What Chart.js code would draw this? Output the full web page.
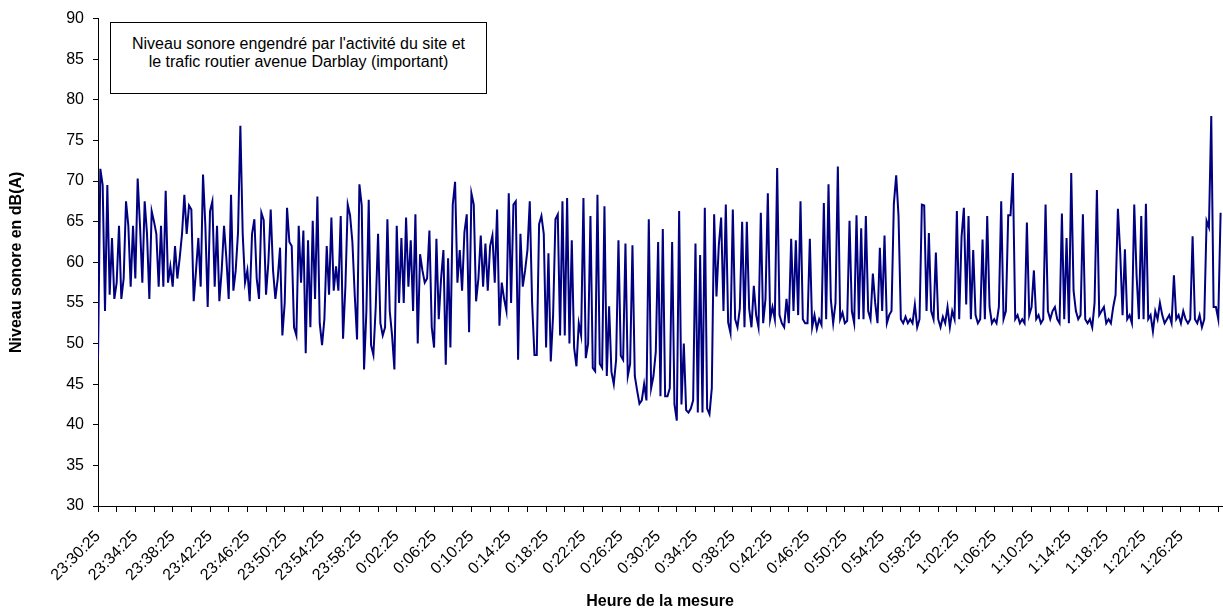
<!DOCTYPE html>
<html>
<head>
<meta charset="utf-8">
<title>Niveau sonore</title>
<script src="https://cdn.jsdelivr.net/npm/chart.js@4.4.1/dist/chart.umd.min.js"></script>
<style>
  html, body { margin: 0; padding: 0; background: #fff; }
  #wrap { position: relative; width: 1223px; height: 614px; }
  #note {
    position: absolute; left: 110px; top: 22px; width: 377px; height: 72px;
    box-sizing: border-box; border: 1px solid #000; background: #fff;
    padding-top: 12px; text-align: center; line-height: 23px;
    font: 16px 'Liberation Sans', Arial, sans-serif; color: #000;
  }
</style>
</head>
<body>
<div id="wrap">
  <canvas id="noise"></canvas>
  <div id="note">Niveau sonore engendré par l'activité du site et<br>le trafic routier avenue Darblay (important)</div>
</div>
<script>
// x axis labels, one every 4 minutes
const tickLabels = [
  '23:30:25', '23:34:25', '23:38:25', '23:42:25', '23:46:25', '23:50:25',
  '23:54:25', '23:58:25', '0:02:25', '0:06:25', '0:10:25', '0:14:25',
  '0:18:25', '0:22:25', '0:26:25', '0:30:25', '0:34:25', '0:38:25',
  '0:42:25', '0:46:25', '0:50:25', '0:54:25', '0:58:25', '1:02:25',
  '1:06:25', '1:10:25', '1:14:25', '1:18:25', '1:22:25', '1:26:25'
];

const STEP = 15; // secondes entre deux relevés

// niveau sonore en dB(A), un relevé toutes les 15 s à partir de 23:30:25
const levels = [
  // 23:30:25
  48, 71.5, 69.5, 54, 69.5, 56, 63, 55.5, 57.5, 64.5,
  55.5, 58, 67.5, 64.5, 57, 64.5, 58, 70.3, 64.5, 57.5,
  67.5, 63.5, 55.5, 66.3, 65, 63.5, 57, 64.5, 57, 68.8,
  57.5, 59.5, 57, 62, 58, 60.5, 63.5, 68.3, 63.5, 67,
  66.5, 55.2, 59, 63,
  // ~23:41
  57, 70.8, 64.5, 54.5, 66.3, 67.5, 57, 64.5, 55.2, 59,
  64.5, 60.5, 55.5, 68.3, 56.5, 59, 63.7, 76.8, 63.5, 57.5,
  59, 55.2, 63.5, 65.3, 58, 55.5, 66.1, 65.2, 56, 60,
  66.5, 59, 55.5, 58, 61.8, 51, 55, 66.7, 62.5, 62,
  52, 51, 64.5,
  // ~23:52
  57.5, 63.9, 48.8, 62.7, 52, 65.1, 55.5, 68.1, 52.5, 49.8,
  53, 62, 56, 65.5, 56.5, 59.5, 56.5, 65.7, 50.6, 57,
  67.1, 65.8, 62.5, 56, 50.5, 69.6, 67, 46.8, 54, 67.7,
  49.8, 48.6, 54.5, 63.5, 52.5, 51, 52, 65.3, 54, 51,
  46.8, 64.5, 55, 63,
  // ~0:03
  55, 65.5, 57, 62.7, 54, 65.9, 50, 61, 59, 57.5,
  58, 63.9, 52, 49.5, 62.9, 53, 58, 61.5, 47.4, 60.5,
  49.5, 67.1, 69.9, 57.5, 61.5, 56.5, 63.7, 65.9, 51.4, 68.5,
  67.1, 55.2, 58, 63.3, 57, 62.3, 56.5, 62, 63.3, 57.5,
  66.5, 52.2, 57.5, 55.5,
  // ~0:14
  54, 68.5, 55, 67.1, 67.5, 48, 63.5, 57, 59, 61.5,
  67.5, 55, 48.6, 48.6, 64.7, 65.7, 63.5, 49.5, 61.1, 47.8,
  53.5, 65.3, 65.9, 51, 67.5, 51, 67.9, 50, 62.7, 49.5,
  47.2, 52.5, 51, 67.9, 48.2, 50, 65.7, 47, 46.6, 68.3,
  47.5, 47, 66.9, 46,
  // ~0:25
  54.6, 46.5, 45, 48, 62.7, 48.5, 48, 62.3, 46, 47.5,
  62.1, 46, 44.2, 42.6, 43, 45, 43, 65.3, 44.5, 46,
  49, 62.5, 43.5, 64.1, 43.5, 43.5, 44.5, 62.5, 42.5, 40.5,
  66.3, 42.5, 50, 41.8, 41.5, 42, 43, 62.3, 41.5, 60.9,
  41.5, 66.7, 42,
  // ~0:36
  41.3, 44.5, 65.9, 55.8, 62.1, 65.5, 54, 67.1, 52.6, 51.3,
  66.5, 53, 52, 54.3, 65, 52, 65, 54.3, 52, 57.1,
  53.5, 52, 66.1, 52.5, 55.5, 68.5, 53, 54.5, 53, 71.6,
  53.5, 52.5, 52, 55.5, 52.5, 62.9, 54, 62.7, 53.5, 67.5,
  53, 52.5, 52.5, 62.9,
  // ~0:47
  52, 53.5, 51.8, 53, 52.3, 67.3, 53, 69.6, 55.4, 52.5,
  55, 71.8, 53, 53.8, 52.5, 52.8, 65.1, 54, 52.5, 65.8,
  53, 64.2, 53, 65.7, 54, 53, 58.6, 55, 52.5, 61.8,
  54, 63.3, 52.5, 53.5, 54, 67.2, 70.7, 65.7, 53, 52.5,
  53.3, 52.5, 53,
  // ~0:57
  52.5, 54.8, 52, 53, 67.1, 67, 54, 63.6, 54, 53,
  61.2, 53, 52, 53.3, 52.5, 54.5, 52, 54, 53, 66.3,
  53, 63.1, 66.7, 54.8, 65.7, 53, 61.5, 53.5, 52.5, 53,
  62.8, 53, 65.7, 54.5, 52.5, 53, 52.5, 54.5, 67.5, 53,
  54, 65.8, 65.8, 71,
  // ~1:08
  53, 53.5, 52.5, 53, 52.5, 64.9, 53.5, 54.5, 59, 53,
  53.5, 52.5, 53, 67.1, 54, 53, 54, 54.5, 53, 52.5,
  66, 53, 63, 52.5, 71, 56.5, 54, 53, 53.5, 65.9,
  53, 52.5, 53, 52, 55, 68.9, 53.5, 54, 54.5, 52.5,
  53, 52.5, 54.5, 56,
  // ~1:19
  66.6, 61.1, 53.5, 61.6, 53, 53.5, 52.5, 67.1, 58.4, 53,
  65.7, 53, 67.2, 53, 53.5, 51.5, 54, 53, 55, 53.5,
  52.5, 53, 53.5, 52.5, 58.4, 53, 53.5, 52.5, 54, 53,
  52.5, 53, 63.2, 53, 52.5, 53.5, 52, 53, 65.1, 64.3,
  78, 54.5, 54.5, 53, 66.1
];

const points = levels.map((v, i) => ({ x: i * STEP, y: v }));

const FONT = "'Liberation Sans', Arial, sans-serif";

new Chart(document.getElementById('noise'), {
  type: 'line',
  data: {
    datasets: [
      {
        data: points,
        borderColor: '#000080',
        borderWidth: 2,
        pointRadius: 0,
        tension: 0,
        fill: false
      }
    ]
  },
  options: {
    responsive: true,
    maintainAspectRatio: false,
    animation: false,
    layout: { padding: { top: 12, right: 1, left: 0, bottom: 0 } },
    plugins: {
      legend: { display: false },
      tooltip: { enabled: false }
    },
    scales: {
      x: {
        type: 'linear',
        min: 0,
        max: 7224,
        afterFit: (scale) => {
          scale.height = 108;
          scale.paddingLeft = 0;
          scale.paddingRight = 0; // pas de marge en plus pour les étiquettes inclinées
        },
        border: { color: '#000', width: 1 },
        grid: { drawOnChartArea: false, drawTicks: true, tickLength: 6, color: '#000' },
        ticks: {
          stepSize: 120, // un trait toutes les 2 minutes
          autoSkip: false,
          includeBounds: false,
          minRotation: 45,
          maxRotation: 45,
          padding: 15,
          color: '#000',
          font: { family: FONT, size: 16 },
          callback: (v) => (v % 240 === 0 ? tickLabels[v / 240] || '' : '')
        },
        title: {
          display: true,
          text: 'Heure de la mesure',
          color: '#000',
          font: { family: FONT, size: 16, weight: 'bold' },
          padding: { top: 0, bottom: 3 }
        }
      },
      y: {
        min: 30,
        max: 90,
        afterFit: (scale) => { scale.width = 98; },
        border: { color: '#000', width: 1 },
        grid: { drawOnChartArea: false, drawTicks: true, tickLength: 5, color: '#000' },
        ticks: {
          stepSize: 5,
          padding: 9,
          color: '#000',
          font: { family: FONT, size: 16 }
        },
        title: {
          display: true,
          text: 'Niveau sonore en dB(A)',
          color: '#000',
          font: { family: FONT, size: 16, weight: 'bold' },
          padding: { top: 7, bottom: 0 }
        }
      }
    }
  }
});
</script>
</body>
</html>
